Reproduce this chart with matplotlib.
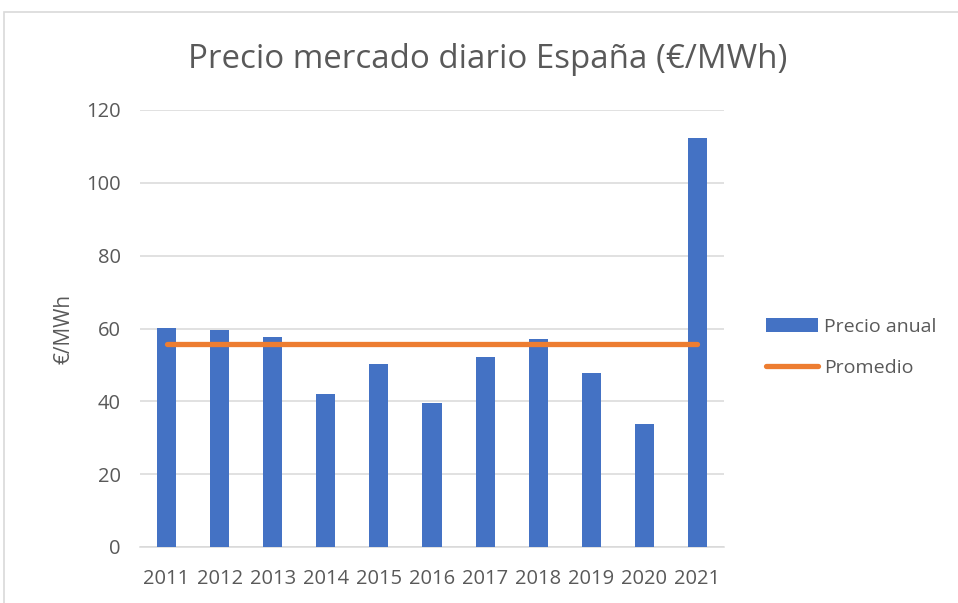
import matplotlib
matplotlib.use("Agg")
import matplotlib.pyplot as plt
from matplotlib.patches import Rectangle

years = ["2011", "2012", "2013", "2014", "2015", "2016", "2017", "2018", "2019", "2020", "2021"]
precio_anual = [60.1, 59.6, 57.8, 42.0, 50.3, 39.6, 52.3, 57.2, 47.7, 33.8, 112.3]
promedio_val = 55.7
promedio = [promedio_val] * len(years)

plt.rcParams['font.family'] = ['Open Sans', 'DejaVu Sans']
TXT = '#595959'

W, H = 958, 603
fig = plt.figure(figsize=(W/100, H/100), dpi=100)
fig.patches.append(Rectangle((4/W, -0.1), 1.2, (H-12)/H + 0.1, transform=fig.transFigure,
                             fill=False, edgecolor='#D9D9D9', linewidth=1.2))

ax = fig.add_axes([140/W, 1-547/H, (724-140)/W, (547-110)/H])
x = list(range(len(years)))
bars = ax.bar(x, precio_anual, width=0.36, color='#4472C4', zorder=3, label='Precio anual')
line, = ax.plot(x, promedio, color='#ED7D31', linewidth=3.8, solid_capstyle='round', zorder=4, label='Promedio')

ax.set_xlim(-0.5, len(years)-0.5)
ax.set_ylim(0, 120)
ax.set_yticks(range(0, 121, 20))
ax.set_xticks(x)
ax.set_xticklabels(years)
ax.tick_params(axis='both', length=0, colors=TXT, labelsize=14.5)
ax.tick_params(axis='y', pad=14)
ax.tick_params(axis='x', pad=16)
ax.grid(axis='y', color='#D9D9D9', linewidth=1.1, zorder=0)
for s in ['top', 'right', 'left']:
    ax.spines[s].set_visible(False)
ax.spines['bottom'].set_color('#D9D9D9')
ax.spines['bottom'].set_linewidth(1.1)
ax.set_ylabel('€/MWh', color=TXT, fontsize=15, labelpad=8)

fig.text(488/W, 1-60/H, 'Precio mercado diario España (€/MWh)', ha='center', va='center',
         fontsize=23.8, color=TXT)

leg = fig.legend(handles=[bars, line], labels=['Precio anual', 'Promedio'],
                 loc='upper left', bbox_to_anchor=(748/W, 1-300/H), frameon=False,
                 fontsize=14, labelcolor=TXT, handlelength=2.7, handletextpad=0.3,
                 labelspacing=1.2)

fig.savefig('out.png', dpi=100)
